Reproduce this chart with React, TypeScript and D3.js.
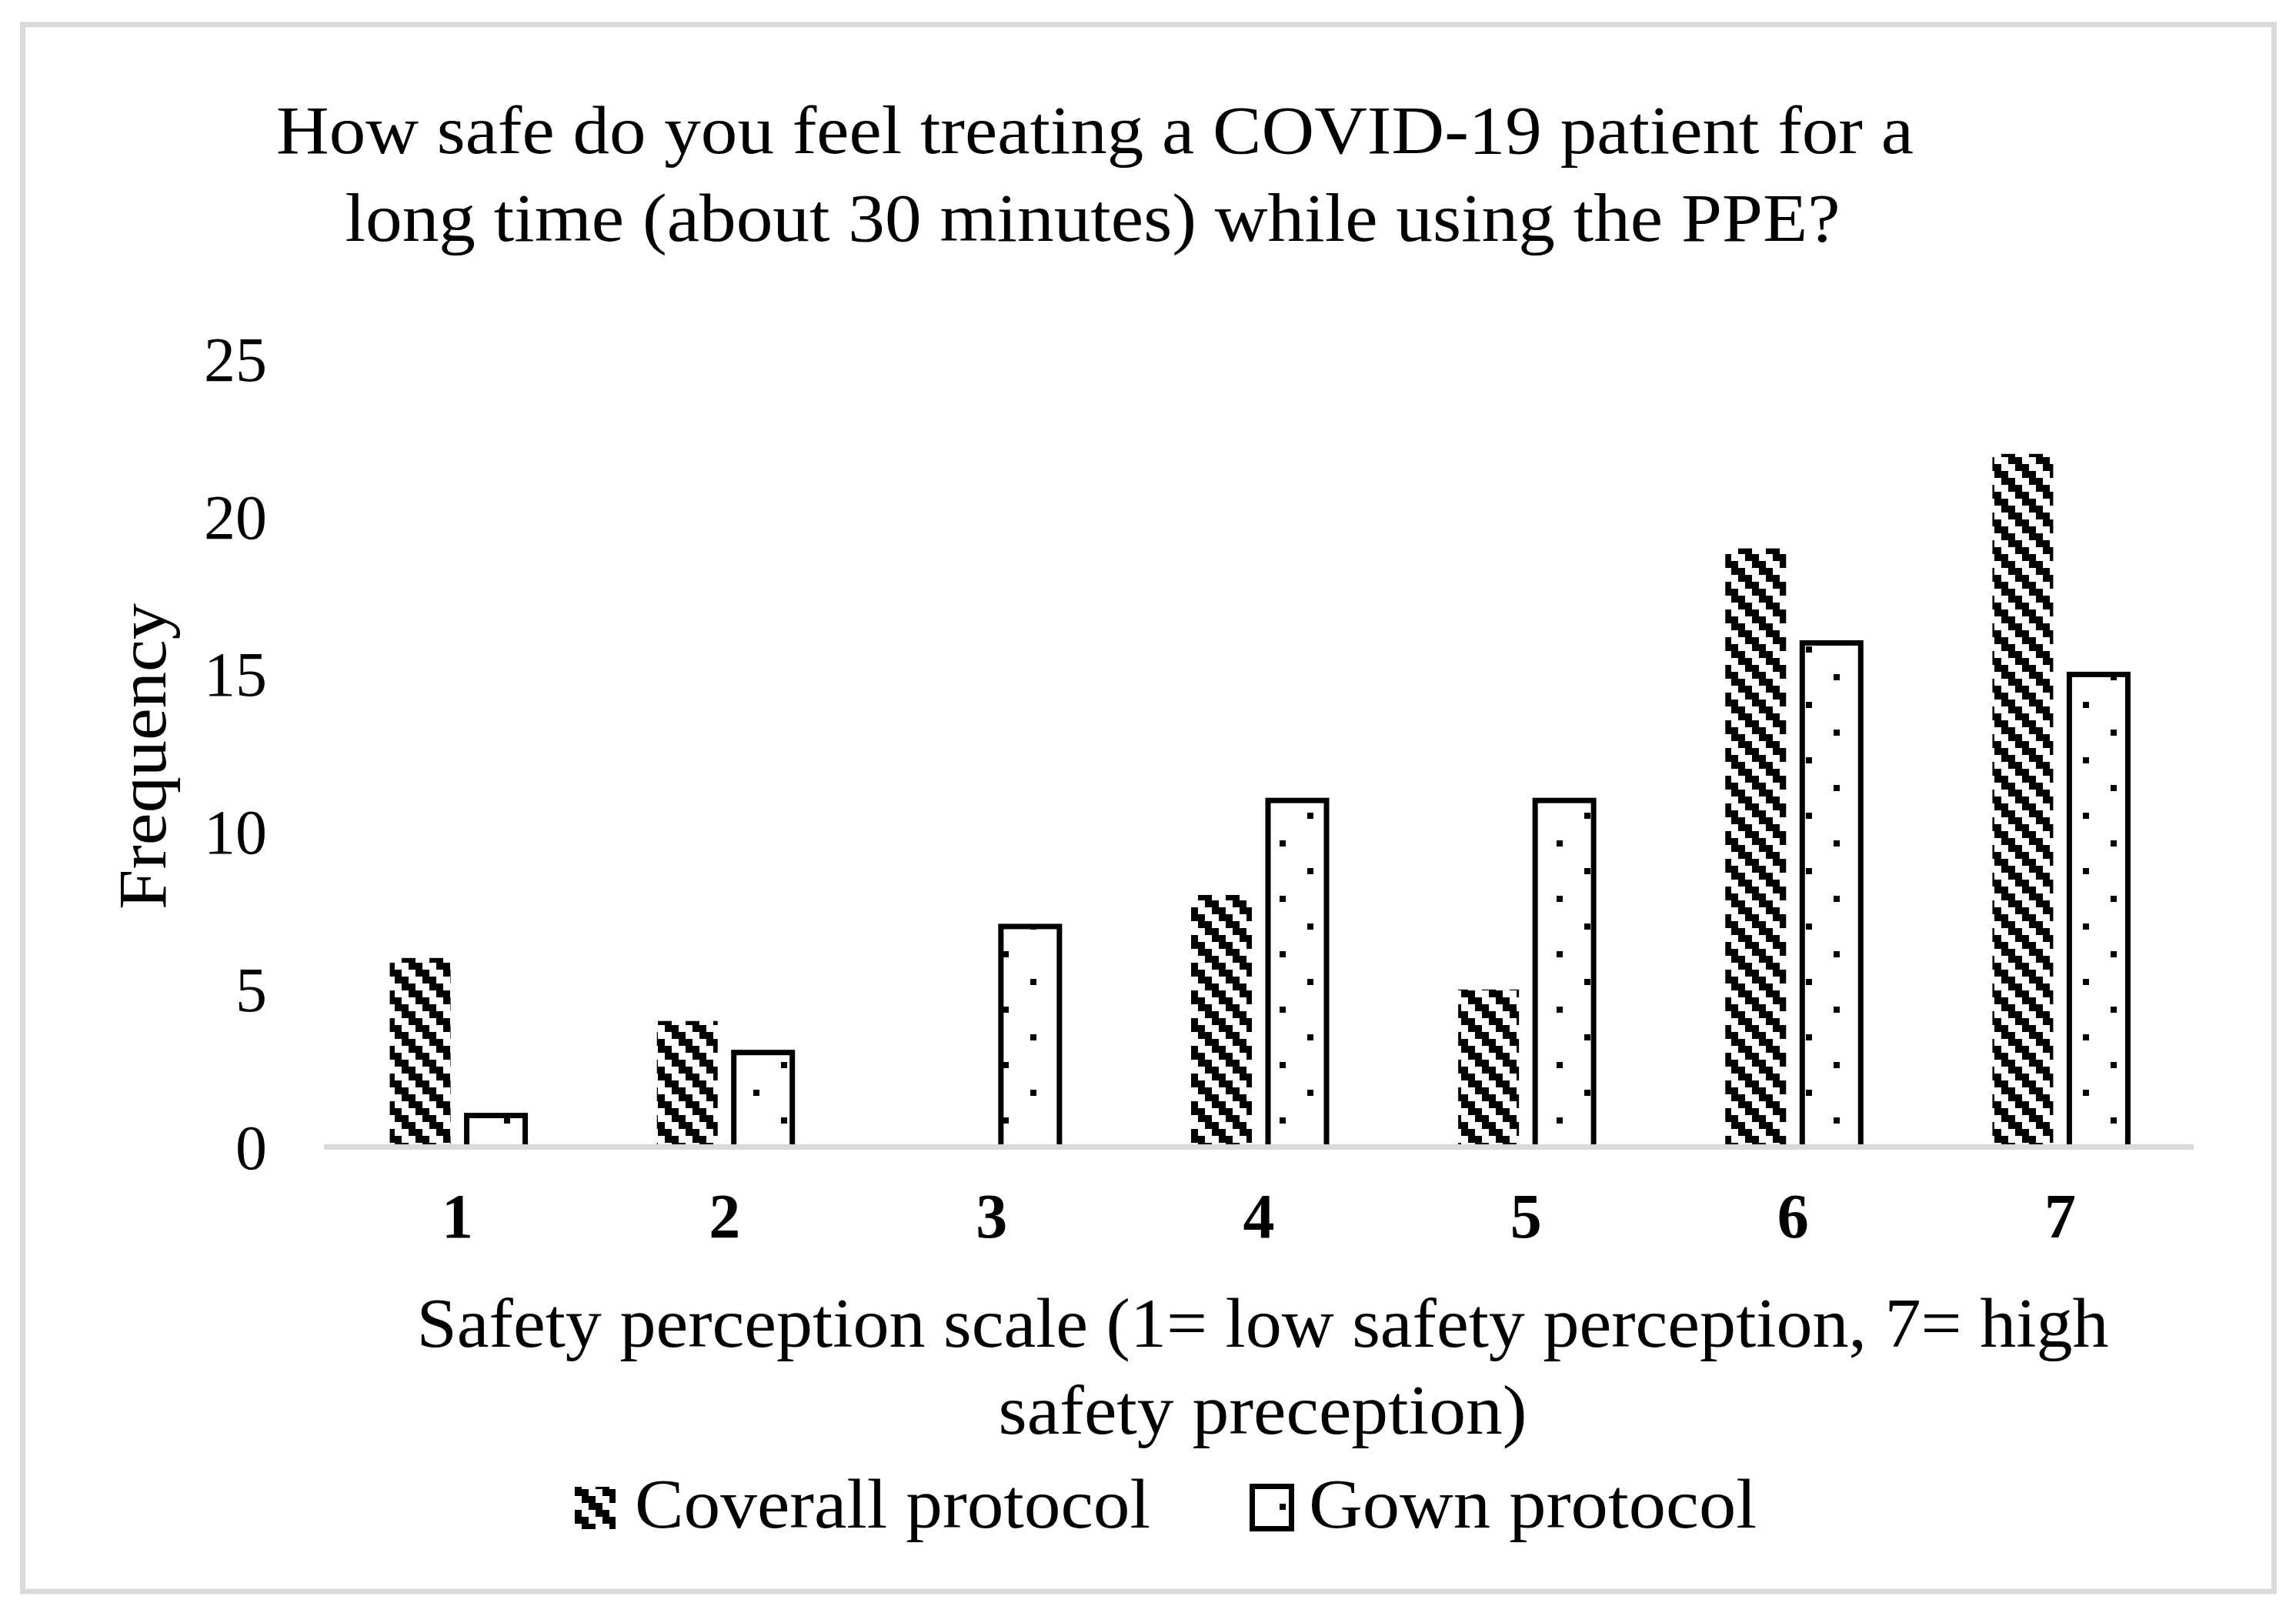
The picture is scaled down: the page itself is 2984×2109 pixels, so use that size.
import * as d3 from "d3";

const categories = ["1", "2", "3", "4", "5", "6", "7"];
const coverall = [6, 4, 0, 8, 5, 19, 22];
const gown = [1, 3, 7, 11, 11, 16, 15];
const yTicks = [0, 5, 10, 15, 20, 25];
const titleLines = [
  "How safe do you feel treating a COVID-19 patient for a",
  "long time (about 30 minutes) while using the PPE?",
];
const xTitleLines = [
  "Safety perception scale (1= low safety perception, 7= high",
  "safety preception)",
];
const yTitle = "Frequency";
const seriesNames = ["Coverall protocol", "Gown protocol"];

const W = 2984;
const H = 2109;
const FONT = "'Liberation Serif', 'Times New Roman', serif";

export default function App() {
  const x = d3.scaleBand<string>().domain(categories).range([421, 2851]);
  const y = d3.scaleLinear().domain([0, 25]).range([1490.5, 467]);
  const half = x.bandwidth() / 2;

  // 4x4 cells of 9px, "dark downward diagonal"
  const stripeCells: [number, number][] = [];
  for (let r = 0; r < 4; r++) {
    stripeCells.push([r, r]);
    stripeCells.push([(r + 1) % 4, r]);
  }

  return (
    <div style={{ position: "absolute", left: 0, top: 0, background: "#fff" }}>
      <svg width={W} height={H} viewBox={`0 0 ${W} ${H}`} style={{ display: "block" }}>
        <defs>
          <pattern id="stripes" patternUnits="userSpaceOnUse" width={36} height={36}>
            <rect width={36} height={36} fill="#fff" />
            {stripeCells.map(([c, r], i) => (
              <rect key={i} x={c * 9} y={r * 9} width={9} height={9} fill="#000" />
            ))}
          </pattern>
          <pattern id="dots" patternUnits="userSpaceOnUse" x={7} y={12} width={72} height={72}>
            <rect width={72} height={72} fill="#fff" />
            <rect x={0} y={0} width={8} height={8} fill="#000" />
            <rect x={36} y={36} width={8} height={8} fill="#000" />
          </pattern>
        </defs>

        <rect width={W} height={H} fill="#fff" />
        {/* frame */}
        <rect x={29.5} y={32} width={2926} height={2036} fill="none" stroke="#d9d9d9" strokeWidth={7} />

        {/* title */}
        <g fontFamily={FONT} fontSize={88} fill="#000" textAnchor="middle">
          <text x={1423} y={199} textLength={2128} lengthAdjust="spacingAndGlyphs">
            {titleLines[0]}
          </text>
          <text x={1420} y={313} textLength={1943} lengthAdjust="spacingAndGlyphs">
            {titleLines[1]}
          </text>
        </g>

        {/* y ticks */}
        <g fontFamily={FONT} fontSize={82} fill="#000" textAnchor="end">
          {yTicks.map((t) => (
            <text key={t} x={347} y={y(t) + 28}>
              {t}
            </text>
          ))}
        </g>

        {/* y title */}
        <text
          transform={`translate(215,983) rotate(-90)`}
          fontFamily={FONT}
          fontSize={88}
          textAnchor="middle"
          textLength={398}
          lengthAdjust="spacingAndGlyphs"
        >
          {yTitle}
        </text>

        {/* bars */}
        {categories.map((c, i) => {
          const cx = (x(c) ?? 0) + half;
          return (
            <g key={c}>
              {coverall[i] > 0 && (
                <rect
                  x={cx - 88}
                  y={y(coverall[i])}
                  width={79}
                  height={y(0) - y(coverall[i])}
                  fill="url(#stripes)"
                />
              )}
              <rect
                x={cx + 12}
                y={y(gown[i])}
                width={76}
                height={y(0) - y(gown[i])}
                fill="url(#dots)"
                stroke="#000"
                strokeWidth={7}
              />
            </g>
          );
        })}

        {/* x axis line */}
        <line x1={x.range()[0]} x2={x.range()[1]} y1={y(0)} y2={y(0)} stroke="#d9d9d9" strokeWidth={7} />

        {/* x ticks */}
        <g fontFamily={FONT} fontSize={82} fontWeight="bold" textAnchor="middle">
          {categories.map((c) => (
            <text key={c} x={(x(c) ?? 0) + half} y={1608}>
              {c}
            </text>
          ))}
        </g>

        {/* x title */}
        <g fontFamily={FONT} fontSize={90} textAnchor="middle">
          <text x={1641} y={1750} textLength={2199} lengthAdjust="spacingAndGlyphs">
            {xTitleLines[0]}
          </text>
          <text x={1641} y={1863} textLength={687} lengthAdjust="spacingAndGlyphs">
            {xTitleLines[1]}
          </text>
        </g>

        {/* legend */}
        <g fontFamily={FONT} fontSize={90}>
          <rect x={747} y={1932} width={53} height={55} fill="url(#stripes)" />
          <text x={825} y={1985} textLength={670} lengthAdjust="spacingAndGlyphs">
            {seriesNames[0]}
          </text>
          <rect x={1627.5} y={1931.5} width={51} height={55} fill="#fff" stroke="#000" strokeWidth={7} />
          <rect x={1663} y={1954} width={8} height={8} fill="#000" />
          <text x={1701} y={1985} textLength={582} lengthAdjust="spacingAndGlyphs">
            {seriesNames[1]}
          </text>
        </g>
      </svg>
    </div>
  );
}
